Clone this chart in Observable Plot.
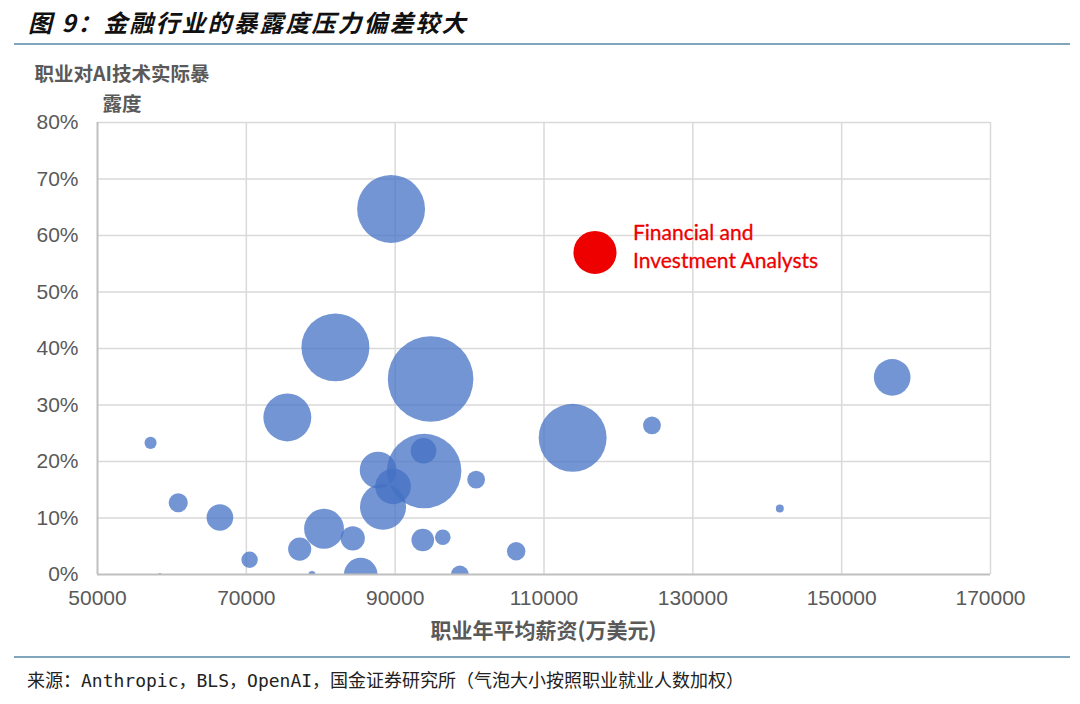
<!DOCTYPE html>
<html><head><meta charset="utf-8">
<script src="https://cdn.jsdelivr.net/npm/d3@7"></script>
<script src="https://cdn.jsdelivr.net/npm/@observablehq/plot@0.6"></script>
<style>
body{margin:0;background:#fff;}
#wrap{position:relative;width:1080px;height:704px;overflow:hidden;font-family:"Noto Sans CJK SC",sans-serif;background:#fff;}
#title{position:absolute;left:28px;top:4px;font-size:24px;font-weight:700;font-style:italic;letter-spacing:2px;color:#111;line-height:36px;white-space:nowrap;}
.rule{position:absolute;left:14px;width:1056px;height:2px;background:#7ea6bd;}
#ytitle{position:absolute;left:22px;top:58px;width:200px;text-align:center;font-size:19.5px;font-weight:700;color:#595959;line-height:30px;}
#chart{position:absolute;left:0;top:100px;}
#xtitle{position:absolute;left:97px;width:893px;top:614px;text-align:center;font-size:21px;font-weight:700;color:#595959;line-height:30px;}
#source{position:absolute;left:27px;top:668px;font-size:18px;color:#222;line-height:26px;white-space:nowrap;font-family:"DejaVu Sans Mono","Noto Sans CJK SC",monospace;}
</style></head><body>
<div id="wrap">
<div id="title">图 9：金融行业的暴露度压力偏差较大</div>
<div class="rule" style="top:43px"></div>
<div id="ytitle">职业对AI技术实际暴<br>露度</div>
<div id="chart"></div>
<div id="xtitle">职业年平均薪资(万美元)</div>
<div class="rule" style="top:656px"></div>
<div id="source">来源：Anthropic，BLS，OpenAI，国金证券研究所（气泡大小按照职业就业人数加权）</div>
</div>
<script>
// Occupations (blue bubbles): average annual salary, AI exposure, employment (thousands)
const salary = [89450, 81970, 94760, 75510, 113850, 124510, 141690, 106260, 156790, 57130, 60850, 66450, 70440, 77170, 80440, 84300, 78820, 85370, 88370, 87700, 89720, 93890, 93810, 100880, 93710, 96400, 98690, 58380];
const exposure = [0.647, 0.402, 0.346, 0.278, 0.242, 0.264, 0.117, 0.041, 0.349, 0.233, 0.127, 0.101, 0.026, 0.045, 0.081, 0.064, 0.0, 0.0, 0.120, 0.185, 0.156, 0.183, 0.219, 0.168, 0.061, 0.066, 0.0, 0.0];
const employment = [1890, 1890, 3000, 940, 1890, 130, 26, 140, 550, 60, 150, 290, 110, 220, 650, 240, 20, 460, 870, 550, 520, 2270, 270, 130, 210, 100, 130, 4];

// Highlighted occupation
const highlightLabel = ["Financial and\nInvestment Analysts"];
const highlightSalary = [116850];
const highlightExposure = [0.570];
const highlightEmployment = [760];

const xTicks = [50000, 70000, 90000, 110000, 130000, 150000, 170000];
const yTicks = [0, 0.1, 0.2, 0.3, 0.4, 0.5, 0.6, 0.7, 0.8];

const blue = salary.map((s, i) => ({salary: s, exposure: exposure[i], employment: employment[i]}));
const red = highlightLabel.map((l, i) => ({label: l, salary: highlightSalary[i], exposure: highlightExposure[i], employment: highlightEmployment[i]}));

const chart = Plot.plot({
  width: 1080, height: 510,
  marginLeft: 97, marginRight: 90, marginTop: 22, marginBottom: 36,
  x: {domain: [50000, 170000], ticks: xTicks, tickFormat: d => String(d), tickSize: 0, tickPadding: 16, label: null},
  y: {domain: [0, 0.8], ticks: yTicks, tickFormat: d => Math.round(d * 100) + "%", tickSize: 0, tickPadding: 19, label: null},
  r: {type: "sqrt", domain: [0, 3000], range: [0, 42.8]},
  style: {fontFamily: "'Liberation Sans', Arial, sans-serif", fontSize: "21px", color: "#595959", background: "transparent", overflow: "visible"},
  marks: [
    Plot.ruleX(xTicks.slice(1), {stroke: "#d9d9d9", strokeWidth: 1.5}),
    Plot.ruleY(yTicks.slice(1), {stroke: "#d9d9d9", strokeWidth: 1.5}),
    Plot.dot(blue, {x: "salary", y: "exposure", r: "employment", fill: "#4472C4", fillOpacity: 0.75, clip: true}),
    Plot.dot(red, {x: "salary", y: "exposure", r: "employment", fill: "#ee0000", clip: true}),
    Plot.ruleX([50000], {stroke: "#bfbfbf", strokeWidth: 2}),
    Plot.ruleY([0], {stroke: "#bfbfbf", strokeWidth: 2}),
    Plot.text(red, {x: "salary", y: "exposure", text: "label", dx: 38, dy: -7, textAnchor: "start", lineAnchor: "middle", lineHeight: 1.32, fill: "#ee0000", fontSize: 21, fontFamily: "Lato, sans-serif", stroke: "#ee0000", strokeWidth: 0.3})
  ]
});
document.getElementById("chart").appendChild(chart);
</script>
</body></html>
